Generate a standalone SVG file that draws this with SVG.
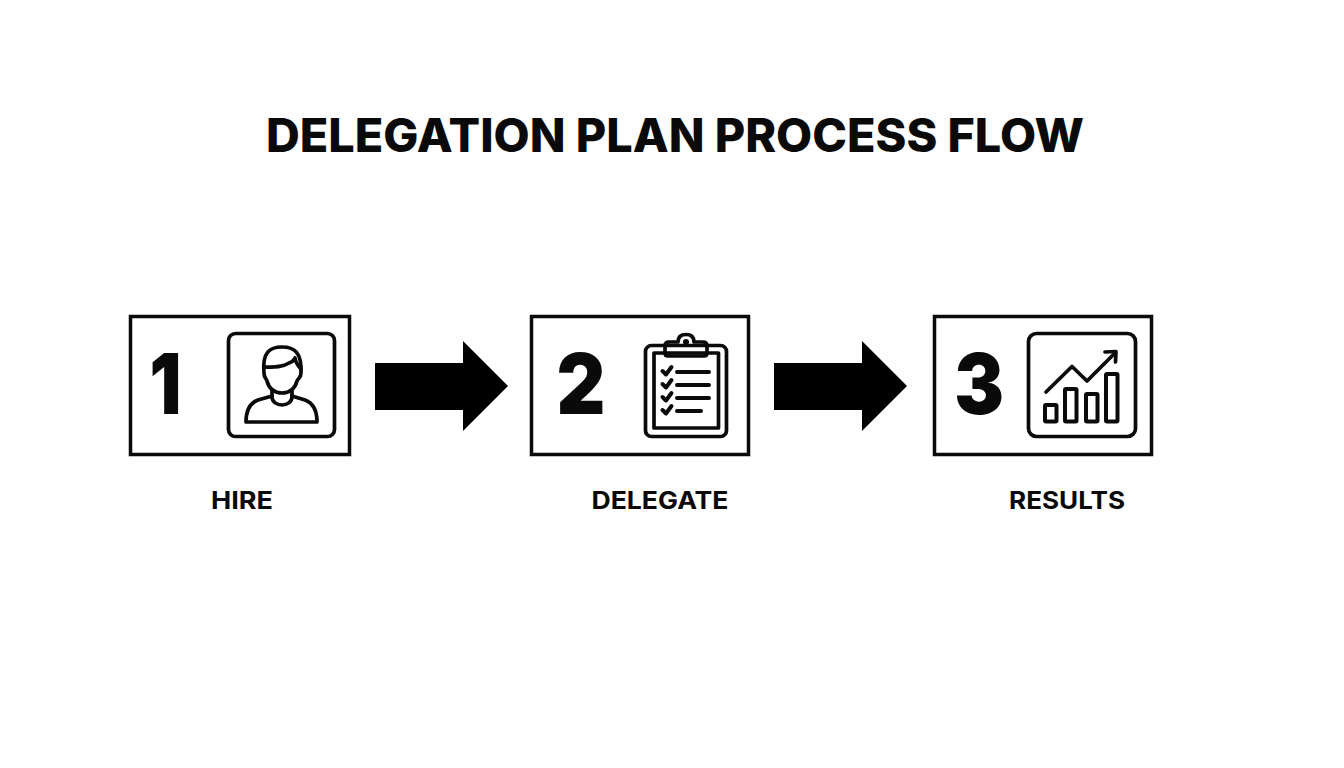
<svg xmlns="http://www.w3.org/2000/svg" width="1344" height="768" viewBox="0 0 1344 768">
<style>
text{font-family:Inter,"Liberation Sans",sans-serif;fill:#0a0a0a}
.title{font-size:46px;font-weight:800;text-anchor:middle}
.num{font-size:84px;font-weight:900;text-anchor:middle}
.lab{font-size:24px;font-weight:700;text-anchor:middle}
.box{fill:#fff;stroke:#0a0a0a;stroke-width:3.5}
.ic{fill:none;stroke:#0a0a0a;stroke-width:3.7;stroke-linejoin:round;stroke-linecap:round}
.bar{fill:none;stroke:#0a0a0a;stroke-width:4;stroke-linejoin:round}
.arrow{fill:#000}
</style>
<rect width="1344" height="768" fill="#fefefe"/>
<text class="title" x="675" y="152" textLength="818" lengthAdjust="spacingAndGlyphs">DELEGATION PLAN PROCESS FLOW</text>
<g id="node-1">
<rect class="box" x="130.5" y="316.5" width="219" height="138"/>
<text class="num" transform="translate(165.500 414) scale(.84 1)">1</text>
<rect class="ic" x="228.5" y="333.5" width="106" height="103" rx="7"/>
<path class="ic" d="M264 373C262 352 270 347 282 347C294 347 302 352 301 373C301 378 298 378 297 381C295 389 289 393 282 393C275 393 269 389 267 381C266 378 264 378 264 373Z"/>
<path class="ic" d="M264 367C272 367 281 368 289 363C292 362 294 360 295 358C296 363 298 366 301 369"/>
<path class="ic" d="M272 391L272 397C272 402 277 405 282 405C287 405 292 402 292 397L292 391"/>
<path class="ic" d="M272 396L258 400C250 403 246 410 246 422L317 422C317 410 313 403 305 400L292 396"/>
<text class="lab" x="242" y="509" textLength="62" lengthAdjust="spacingAndGlyphs">HIRE</text>
</g>
<g id="node-2">
<rect class="box" x="531.5" y="316.5" width="217" height="138"/>
<text class="num" transform="translate(581 414) scale(.9 1)">2</text>
<rect class="ic" x="645.5" y="345.5" width="81" height="91" rx="6"/>
<rect class="ic" x="654" y="353" width="64.500" height="75"/>
<path class="ic" d="M668 356C666 356 665 355 665 353L665 346C665 343 667 342 669 342L678 342C678 337 681 334.500 686 334.500C691 334.500 694 337 694 342L703 342C705 342 707 343 707 346L707 353C707 355 706 356 704 356Z" fill="#fff"/>
<circle cx="686" cy="342" r="3" fill="#0a0a0a"/>
<path class="ic" style="stroke-width:4" d="M662.500 371L666 374.500L671.500 367M662.500 384L666 387.500L671.500 380M662.500 397L666 400.500L671.500 393M662.500 410L666 413.500L671.500 406"/>
<path class="ic" style="stroke-width:4" d="M677 372H709M677 385H709M677 398H709M677 411H701"/>
<text class="lab" x="660" y="509" textLength="137" lengthAdjust="spacingAndGlyphs">DELEGATE</text>
</g>
<g id="node-3">
<rect class="box" x="934.5" y="316.5" width="217" height="138"/>
<text class="num" transform="translate(979 414) scale(.885 1)">3</text>
<rect class="ic" x="1028.5" y="333.5" width="107" height="103" rx="8"/>
<path class="ic" d="M1046 392L1072 366.500L1087 381L1115 353"/>
<path class="ic" d="M1105 352L1116 351.500L1115.500 362"/>
<rect class="bar" x="1045" y="405" width="11.500" height="16.500" rx="1"/>
<rect class="bar" x="1065" y="389" width="11.500" height="32.500" rx="1"/>
<rect class="bar" x="1086" y="394" width="11.500" height="27.500" rx="1"/>
<rect class="bar" x="1106" y="374" width="11.500" height="47.500" rx="1"/>
<text class="lab" x="1067" y="509" textLength="116" lengthAdjust="spacingAndGlyphs">RESULTS</text>
</g>
<g id="connectors">
<polygon class="arrow" points="375,363 463,363 463,341 508,386 463,431 463,410 375,410"/>
<polygon class="arrow" points="774,363 862,363 862,341 907,386 862,431 862,410 774,410"/>
</g>
</svg>
